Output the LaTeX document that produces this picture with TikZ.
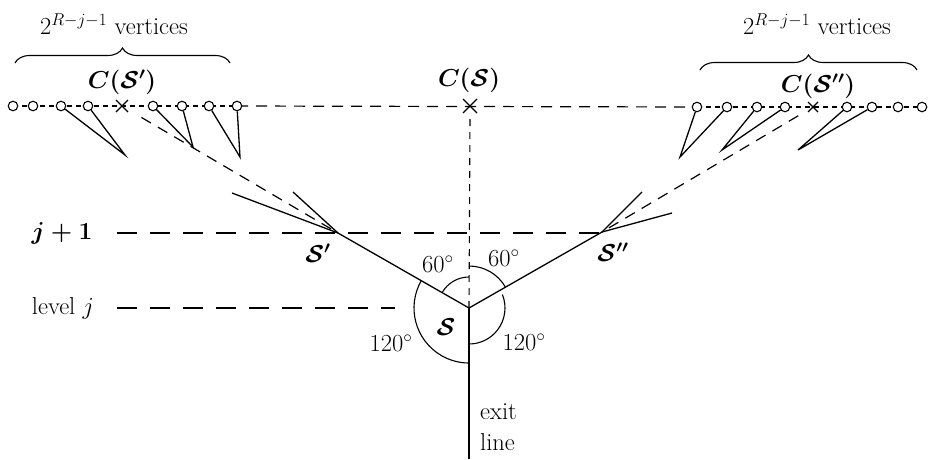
\documentclass[tikz,border=0pt]{standalone}
\usepackage{fix-cm}
\usepackage{amsmath}
\usetikzlibrary{decorations.pathreplacing,calc}
\begin{document}
\begin{tikzpicture}[x=1pt,y=-1pt,
  every node/.style={font=\fontsize{24.5}{28}\selectfont},
  ln/.style={line width=1.3pt},
  thin ln/.style={line width=1.1pt},
  longdash/.style={line width=1.2pt,dash pattern=on 20pt off 13pt},
  middash/.style={line width=1.2pt,dash pattern=on 11pt off 8pt},
  shortdash/.style={line width=1.1pt,dash pattern=on 5pt off 4pt},
  vdash/.style={line width=1.1pt,dash pattern=on 7pt off 6pt},
  vtx/.style={circle,draw,fill=white,line width=1.1pt,inner sep=0pt,minimum size=9.5pt},
  lbl/.style={inner sep=1pt},
  bracestyle/.style={line width=1.1pt,decorate,decoration={brace,amplitude=15pt}}
]
\useasboundingbox (0,0) rectangle (928,459);
% main points
\coordinate (S) at (469,308);
\coordinate (Sp) at (338,233);
\coordinate (Spp) at (602,232);
\coordinate (CS) at (470,106);
\coordinate (CSp) at (122,106);
\coordinate (CSpp) at (813,107);
\coordinate (exitend) at (469,459);
% vertex positions
\foreach \n/\x in {1/13,2/33,3/61,4/88,5/153,6/182,7/209,8/237}{\coordinate (l\n) at (\x,106);}
\foreach \n/\x in {1/697,2/727,3/757,4/785,5/847,6/872,7/898,8/922}{\coordinate (r\n) at (\x,107);}
% apexes of small branches
\coordinate (la1) at (125,155);
\coordinate (la2) at (193,147);
\coordinate (la3) at (240,157);
\coordinate (ra1) at (680,157);
\coordinate (ra2) at (722,150);
\coordinate (ra3) at (798,150);
% branch ends at S', S''
\coordinate (bp1) at (232,193);
\coordinate (bp2) at (293,192);
\coordinate (bq1) at (642,192);
\coordinate (bq2) at (672,213);

% top dashed line
\draw[shortdash] (l1) -- (l8);
\draw[middash] (l8) -- (r1);
\draw[shortdash] (r1) -- (r8);
% crosses
\draw[thin ln] (CS) +(-7,-7) -- +(7,7) (CS) +(-7,7) -- +(7,-7);
\draw[thin ln] (CSp) +(-6,-6) -- +(6,6) (CSp) +(-6,6) -- +(6,-6);
\draw[thin ln] (CSpp) +(-5,-5) -- +(5,5) (CSpp) +(-5,5) -- +(5,-5);
% vertical dashed
\draw[vdash] ($(CS)+(0,13)$) -- (S);
% dashed to C(S'), C(S'')
\draw[middash] ($(CSp)!0.09!(Sp)$) -- (Sp);
\draw[middash] ($(CSpp)!0.07!(Spp)$) -- (Spp);
% level lines
\node[lbl] (jp1) at (62,233) {$\boldsymbol{j+1}$};
\node[lbl] (lvj) at (63,308) {level $j$};
\coordinate (jp1end) at (600,233);
\coordinate (lvjend) at (395,308);
\draw[longdash] (117,233) -- (jp1end);
\draw[longdash] (117,308) -- (lvjend);
% tree edges
\draw[ln] (S) -- (Sp) -- (bp1);
\draw[ln] (Sp) -- (bp2);
\draw[ln] (S) -- (Spp) -- (bq1);
\draw[ln] (Spp) -- (bq2);
\draw[ln] (S) -- (exitend);
% vertices
\foreach \n in {1,...,8}{\node[vtx] (L\n) at (l\n) {}; \node[vtx] (R\n) at (r\n) {};}
% small branches
\draw[ln] (L3) -- (la1) -- (L4);
\draw[ln] (L5) -- (la2) -- (L6);
\draw[ln] (L7) -- (la3) -- (L8);
\draw[ln] (R1) -- (ra1) -- (R2);
\draw[ln] (R3) -- (ra2) -- (R4);
\draw[ln] (R5) -- (ra3) -- (R6);
% angle arcs (angles negated because y axis points down)
\draw[thin ln] ($(S)+(-90:31)$) arc[start angle=-90,end angle=-150,radius=31];
\draw[thin ln] ($(S)+(-90:42)$) arc[start angle=-90,end angle=-30,radius=42];
\draw[thin ln] ($(S)+(-150:55)$) arc[start angle=-150,end angle=-270,radius=55];
\draw[thin ln] ($(S)+(-22:36)$) arc[start angle=-22,end angle=88,radius=36];
% labels
\node[lbl] (a60l) at (438,264) {$60^\circ$};
\node[lbl] (a60r) at (504,258) {$60^\circ$};
\node[lbl] (a120l) at (391,343) {$120^\circ$};
\node[lbl] (a120r) at (524,342) {$120^\circ$};
\node[lbl] (Slbl) at (446,327) {$\boldsymbol{\mathcal{S}}$};
\node[lbl] (Splbl) at (318,253) {$\boldsymbol{\mathcal{S}'}$};
\node[lbl] (Spplbl) at (613,252) {$\boldsymbol{\mathcal{S}''}$};
\node[lbl] (CSlbl) at (469,80) {$\boldsymbol{C(\mathcal{S})}$};
\node[lbl] (CSplbl) at (122,82) {$\boldsymbol{C(\mathcal{S}')}$};
\node[lbl] (CSpplbl) at (818,86) {$\boldsymbol{C(\mathcal{S}'')}$};
\node[lbl,anchor=west] (exitlbl) at (479,412) {exit};
\node[lbl,anchor=west] (linelbl) at (479,442) {line};
% braces
\coordinate (bl1) at (15,63);
\coordinate (bl2) at (230,63);
\coordinate (br1) at (700,70);
\coordinate (br2) at (917,70);
\draw[bracestyle] (bl1) -- (bl2);
\draw[bracestyle] (br1) -- (br2);
\node[lbl] (vl) at (114,24) {$2^{R-j-1}$ vertices};
\node[lbl] (vr) at (817,24) {$2^{R-j-1}$ vertices};
\end{tikzpicture}
\end{document}
